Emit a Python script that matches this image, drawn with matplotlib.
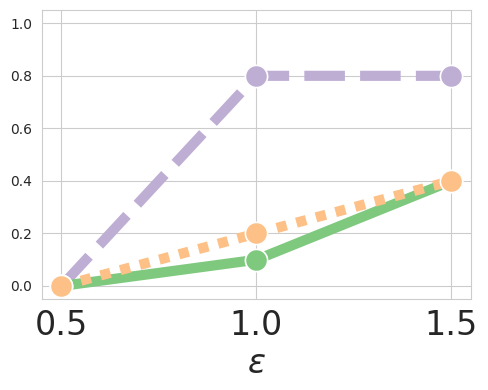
import matplotlib
matplotlib.use("Agg")
import matplotlib.pyplot as plt
import seaborn as sns

sns.set_style("whitegrid")

eps = [0.5, 1.0, 1.5]
purple_vals = [0.0, 0.8, 0.8]
green_vals = [0.0, 0.1, 0.4]
orange_vals = [0.0, 0.2, 0.4]

fig, ax = plt.subplots(figsize=(4.88, 3.9), dpi=100)
fig.subplots_adjust(left=0.086, right=0.965, top=0.974, bottom=0.233)

lw = 7.3
ax.plot(eps, purple_vals, color="#beaed4", linestyle=(0, (4, 1.5)), linewidth=lw,
        marker="o", markersize=16, markeredgecolor="white", markeredgewidth=1.2)
ax.plot(eps, green_vals, color="#7fc97f", linestyle="-", linewidth=lw,
        marker="o", markersize=16, markeredgecolor="white", markeredgewidth=1.2)
ax.plot(eps, orange_vals, color="#fdc086", linestyle=(0, (1, 1)), linewidth=lw,
        marker="o", markersize=16, markeredgecolor="white", markeredgewidth=1.2)

ax.set_xlim(0.45, 1.55)
ax.set_ylim(-0.05, 1.05)
ax.set_xticks(eps)
ax.set_yticks([0.0, 0.2, 0.4, 0.6, 0.8, 1.0])
ax.tick_params(axis="x", labelsize=24)
ax.tick_params(axis="y", labelsize=10)
ax.set_xlabel(r"$\epsilon$", fontsize=24, labelpad=4)

plt.savefig("out.png")
